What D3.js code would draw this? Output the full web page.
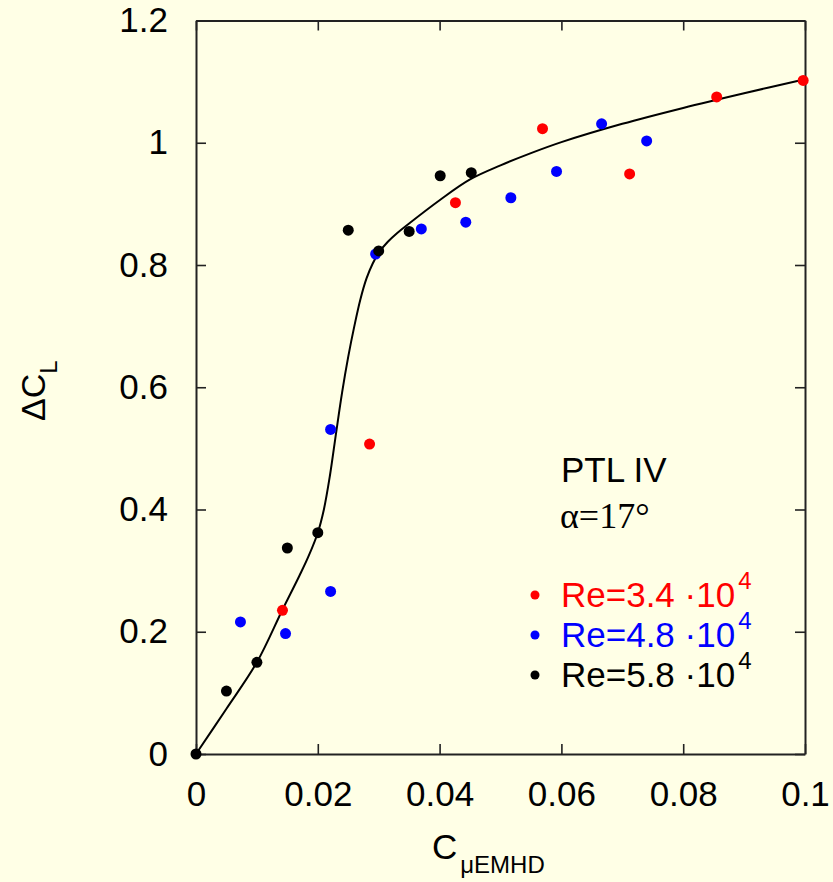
<!DOCTYPE html>
<html>
<head>
<meta charset="utf-8">
<script src="https://cdn.jsdelivr.net/npm/d3@7"></script>
<style>
  html, body { margin: 0; padding: 0; background: #ffffe6; }
  svg { display: block; font-family: "Liberation Sans", Arial, sans-serif; }
</style>
</head>
<body>
<div id="chart"></div>
<script>
// measured points, one list per Reynolds number
var re34 = [[0.0142, 0.235], [0.0285, 0.507], [0.0426, 0.902], [0.0569, 1.023],
            [0.0712, 0.949], [0.0855, 1.075], [0.0997, 1.102]];
var re48 = [[0.0073, 0.216], [0.0147, 0.197], [0.0221, 0.266], [0.0221, 0.531],
            [0.0295, 0.818], [0.0370, 0.859], [0.0443, 0.870], [0.0517, 0.910],
            [0.0592, 0.953], [0.0666, 1.031], [0.0740, 1.003]];
var re58 = [[0, 0], [0.0050, 0.103], [0.0100, 0.150], [0.0150, 0.337], [0.0200, 0.362],
            [0.0250, 0.857], [0.0300, 0.823], [0.0350, 0.855], [0.0401, 0.946], [0.0452, 0.951]];

// fitted trend line
var fitX = [0, 0.005, 0.010, 0.0142, 0.017, 0.0185, 0.020, 0.021, 0.022, 0.023,
            0.024, 0.025, 0.026, 0.027, 0.028, 0.029, 0.030, 0.0315, 0.033, 0.035,
            0.040, 0.045, 0.050, 0.055, 0.060, 0.070, 0.080, 0.090, 0.100];
var fitY = [0, 0.074, 0.150, 0.236, 0.292, 0.324, 0.362, 0.400, 0.456, 0.525,
            0.592, 0.650, 0.700, 0.744, 0.778, 0.802, 0.820, 0.838, 0.852, 0.868,
            0.906, 0.940, 0.963, 0.983, 1.001, 1.031, 1.057, 1.081, 1.104];

var xTicks = [0, 0.02, 0.04, 0.06, 0.08, 0.1];
var xTickLabels = ["0", "0.02", "0.04", "0.06", "0.08", "0.1"];
var yTicks = [0, 0.2, 0.4, 0.6, 0.8, 1, 1.2];
var yTickLabels = ["0", "0.2", "0.4", "0.6", "0.8", "1", "1.2"];

var seriesNames = ["3.4", "4.8", "5.8"];
var seriesColors = ["#ff0000", "#0000ff", "#000000"];

var width = 833, height = 882;
var margin = { top: 20.5, right: 28, bottom: 128, left: 196 };

var svg = d3.select("#chart").append("svg")
  .attr("width", width)
  .attr("height", height);

svg.append("rect").attr("width", width).attr("height", height).attr("fill", "#ffffe6");

var xscale = d3.scaleLinear().domain([0, 0.1]).range([margin.left, width - margin.right]);
var yscale = d3.scaleLinear().domain([0, 1.2]).range([height - margin.bottom, margin.top]);

// axes, ticks pointing inwards on all four sides
var axisStyle = function (g) {
  g.selectAll(".domain").attr("stroke", "#222").attr("stroke-width", 2);
  g.selectAll(".tick line").attr("stroke", "#222").attr("stroke-width", 1.6);
  g.selectAll(".tick text").attr("fill", "#000").style("font-size", "35px")
    .style("font-family", "Liberation Sans, Arial, sans-serif");
};

svg.append("g")
  .attr("transform", "translate(0," + yscale(0) + ")")
  .call(d3.axisBottom(xscale).tickValues(xTicks)
    .tickFormat(function (d, i) { return xTickLabels[i]; })
    .tickSizeInner(-10).tickSizeOuter(0).tickPadding(27))
  .call(axisStyle);

svg.append("g")
  .attr("transform", "translate(0," + yscale(1.2) + ")")
  .call(d3.axisTop(xscale).tickValues(xTicks).tickFormat("")
    .tickSizeInner(-10).tickSizeOuter(0))
  .call(axisStyle);

svg.append("g")
  .attr("transform", "translate(" + xscale(0) + ",0)")
  .call(d3.axisLeft(yscale).tickValues(yTicks)
    .tickFormat(function (d, i) { return yTickLabels[i]; })
    .tickSizeInner(-10).tickSizeOuter(0).tickPadding(28))
  .call(axisStyle);

svg.append("g")
  .attr("transform", "translate(" + xscale(0.1) + ",0)")
  .call(d3.axisRight(yscale).tickValues(yTicks).tickFormat("")
    .tickSizeInner(-10).tickSizeOuter(0))
  .call(axisStyle);

// fit line
var line = d3.line()
  .x(function (d, i) { return xscale(fitX[i]); })
  .y(function (d, i) { return yscale(fitY[i]); })
  .curve(d3.curveCatmullRom.alpha(0.5));

svg.append("path")
  .datum(fitX)
  .attr("d", line)
  .attr("fill", "none")
  .attr("stroke", "#000")
  .attr("stroke-width", 2);

// data points
[re34, re48, re58].forEach(function (data, k) {
  svg.append("g").selectAll("circle")
    .data(data)
    .enter()
    .append("circle")
    .attr("cx", function (d) { return xscale(d[0]); })
    .attr("cy", function (d) { return yscale(d[1]); })
    .attr("r", 5.5)
    .attr("fill", seriesColors[k]);
});

// annotation
svg.append("text")
  .attr("x", 561).attr("y", 482)
  .style("font-size", "35px")
  .text("PTL IV");

svg.append("text")
  .attr("x", 560).attr("y", 528)
  .style("font-family", "Liberation Serif, Times New Roman, serif")
  .style("font-size", "36px")
  .text("α=17°");

// legend
var legend = svg.append("g");
seriesNames.forEach(function (name, i) {
  var y = 595 + i * 40;
  legend.append("circle")
    .attr("cx", 535).attr("cy", y).attr("r", 4.5)
    .attr("fill", seriesColors[i]);
  var t = legend.append("text")
    .attr("x", 561).attr("y", y + 11.5)
    .attr("fill", seriesColors[i])
    .style("font-size", "35px");
  t.append("tspan").text("Re=" + name + " ·10");
  t.append("tspan").attr("dx", 3).attr("dy", -18).style("font-size", "24px").text("4");
});

// axis titles
var xt = svg.append("text")
  .attr("x", 432).attr("y", 859)
  .style("font-size", "35px");
xt.append("tspan").text("C");
xt.append("tspan").attr("dx", 3).attr("dy", 14).style("font-size", "24px").text("μEMHD");

var yt = svg.append("text")
  .attr("transform", "translate(45,421) rotate(-90)")
  .style("font-size", "34px");
yt.append("tspan").text("ΔC");
yt.append("tspan").attr("dy", 12).style("font-size", "24px").text("L");
</script>
</body>
</html>
